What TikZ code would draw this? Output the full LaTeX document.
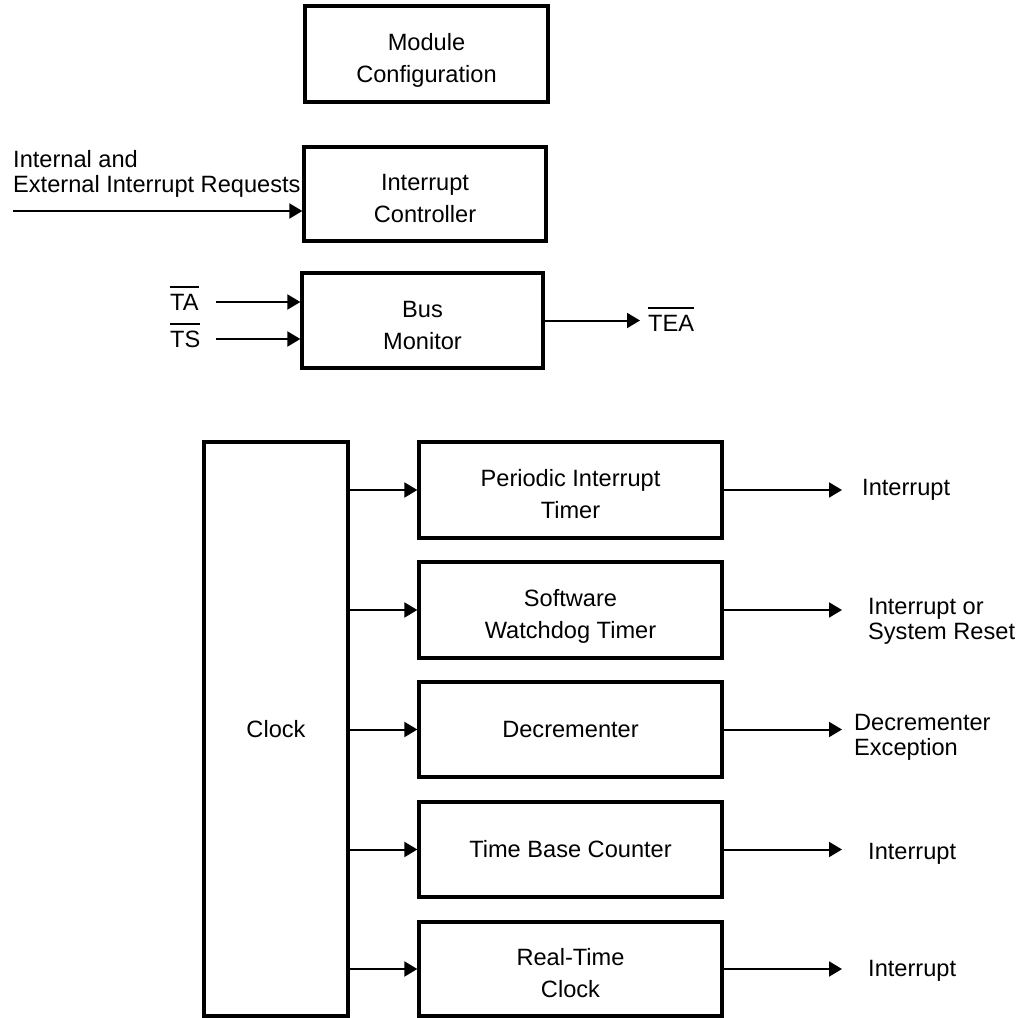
\documentclass[tikz,border=0pt]{standalone}
\usepackage{fontspec}
\setmainfont{Liberation Sans}
\usetikzlibrary{arrows.meta}
\newcommand\olbar[1]{\leavevmode\vbox{\hrule height 2pt\kern 6pt\hbox{#1}}}
\begin{document}
\begin{tikzpicture}[x=1pt,y=-1pt,
  box/.style={draw, line width=3.3pt, align=center, inner sep=0pt, font=\fontsize{23.6}{32}\selectfont},
  twoline/.style={text height=60pt, text depth=3pt},
  arr/.style={line width=2pt, -{Triangle[length=13pt,width=15pt]}},
  lbl/.style={anchor=west, align=left, inner sep=0pt, font=\fontsize{23.6}{25}\selectfont},
  sig/.style={anchor=base west, inner sep=0pt, font=\fontsize{23.6}{25}\selectfont}]
\useasboundingbox (0,0) rectangle (1021,1018);

% upper boxes
\node[box, twoline, minimum width=243pt, minimum height=96pt] (mod) at (426.5,54) {Module\\Configuration};
\node[box, twoline, minimum width=242pt, minimum height=94pt] (ic) at (425,194) {Interrupt\\Controller};
\node[box, twoline, minimum width=241pt, minimum height=95pt] (bm) at (422.5,320.5) {Bus\\Monitor};

% clock and timers
\node[box, minimum width=144pt, minimum height=574pt] (clock) at (276,729) {Clock};
\node[box, twoline, minimum width=303pt, minimum height=96pt] (pit) at (570.5,490) {Periodic Interrupt\\Timer};
\node[box, twoline, minimum width=303pt, minimum height=96pt] (swt) at (570.5,610) {Software\\Watchdog Timer};
\node[box, minimum width=303pt, minimum height=95pt] (dec) at (570.5,729.5) {Decrementer};
\node[box, minimum width=303pt, minimum height=95pt] (tbc) at (570.5,849.5) {Time Base Counter};
\node[box, twoline, minimum width=303pt, minimum height=94pt] (rtc) at (570.5,969) {Real-Time\\Clock};

% interrupt requests
\node[lbl] (lin) at (13,173.5) {Internal and\\External Interrupt Requests};
\coordinate (iin) at (13,211);
\draw[arr] (iin) -- (iin -| ic.west);

% bus monitor signals
\node[sig] (ta) at (170,310.5) {\olbar{TA}};
\node[sig] (ts) at (170,347.5) {\olbar{TS}};
\coordinate (tas) at (216,302);
\coordinate (tss) at (216,339);
\draw[arr] (tas) -- (tas -| bm.west);
\draw[arr] (tss) -- (tss -| bm.west);
\coordinate (teae) at (640,320.5);
\draw[arr] (bm.east) -- (teae);
\node[sig] (tea) at (648,331) {\olbar{TEA}};

% clock to timers
\foreach \b in {pit,swt,dec,tbc,rtc}{
  \draw[arr] (clock.east |- \b.west) -- (\b.west);
}

% outputs
\coordinate (opit) at (842,490);
\coordinate (oswt) at (842,610);
\coordinate (odec) at (842,729.5);
\coordinate (otbc) at (842,849.5);
\coordinate (ortc) at (842,969);
\draw[arr] (pit.east) -- (opit);
\draw[arr] (swt.east) -- (oswt);
\draw[arr] (dec.east) -- (odec);
\draw[arr] (tbc.east) -- (otbc);
\draw[arr] (rtc.east) -- (ortc);

\node[lbl] (lpit) at (862,490) {Interrupt};
\node[lbl] (lswt) at (868,621) {Interrupt or\\System Reset};
\node[lbl] (ldec) at (854,737) {Decrementer\\Exception};
\node[lbl] (ltbc) at (868,854) {Interrupt};
\node[lbl] (lrtc) at (868,971) {Interrupt};
\end{tikzpicture}
\end{document}
